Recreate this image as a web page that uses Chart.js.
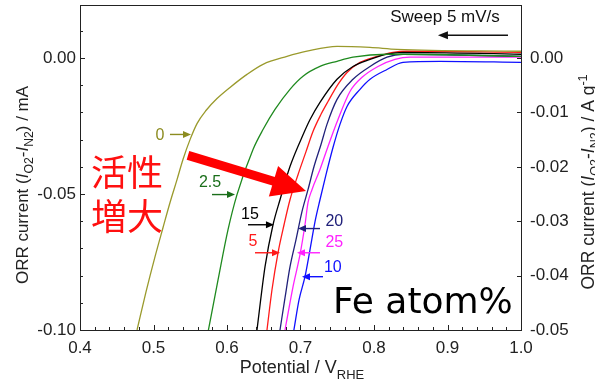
<!DOCTYPE html>
<html><head><meta charset="utf-8">
<script src="https://cdn.jsdelivr.net/npm/chart.js@4/dist/chart.umd.min.js"></script>
<style>html,body{margin:0;padding:0;background:#fff;}#wrap{width:595px;height:385px;}</style>
</head><body><div id="wrap"><canvas id="c" width="595" height="385"></canvas></div>
<script>
// ---- data (potential V vs RHE, ORR current mA) ----
const fe0_V   = [0.4776,0.4898,0.5020,0.5129,0.5224,0.5320,0.5401,0.5497,0.5592,0.5714,0.5864,0.6041,0.6272,0.6490,0.6816,0.7088,0.7497,0.7946,0.8313,1.0];
const fe0_I   = [-0.1000,-0.0860,-0.0731,-0.0624,-0.0532,-0.0447,-0.0373,-0.0300,-0.0241,-0.0193,-0.0149,-0.0108,-0.0060,-0.0023,0.0006,0.0025,0.0043,0.0039,0.0032,0.0025];
const fe2p5_V = [0.5747,0.5878,0.6014,0.6136,0.6354,0.6490,0.6653,0.6857,0.7034,0.7265,0.7497,0.7714,0.8177,0.8395,1.0];
const fe2p5_I = [-0.1000,-0.0816,-0.0631,-0.0502,-0.0336,-0.0263,-0.0189,-0.0115,-0.0067,-0.0031,-0.0012,0.0003,0.0014,0.0014,0.0006];
const fe15_V  = [0.6408,0.6517,0.6626,0.6721,0.6857,0.7048,0.7130,0.7265,0.7497,0.7714,0.7946,0.8177,0.8395,1.0];
const fe15_I  = [-0.1000,-0.0768,-0.0613,-0.0521,-0.0399,-0.0274,-0.0226,-0.0163,-0.0078,-0.0031,-0.0005,0.0014,0.0021,0.0014];
const fe5_V   = [0.6544,0.6612,0.6694,0.6776,0.6857,0.6966,0.7075,0.7170,0.7279,0.7374,0.7510,0.7633,0.7810,0.8041,0.8259,0.8449,1.0];
const fe5_I   = [-0.1000,-0.0852,-0.0716,-0.0613,-0.0521,-0.0429,-0.0344,-0.0270,-0.0207,-0.0160,-0.0097,-0.0053,-0.0016,0.0006,0.0021,0.0025,0.0021];
const fe20_V  = [0.6721,0.6789,0.6857,0.6939,0.7020,0.7102,0.7184,0.7279,0.7360,0.7497,0.7714,0.7946,0.8177,0.8395,1.0];
const fe20_I  = [-0.1000,-0.0882,-0.0768,-0.0668,-0.0565,-0.0484,-0.0399,-0.0318,-0.0244,-0.0152,-0.0078,-0.0031,0.0003,0.0014,0.0006];
const fe25_V  = [0.6789,0.6898,0.6993,0.7061,0.7102,0.7156,0.7265,0.7374,0.7510,0.7673,0.7837,0.8054,0.8286,0.8490,1.0];
const fe25_I  = [-0.1000,-0.0841,-0.0723,-0.0613,-0.0532,-0.0484,-0.0410,-0.0325,-0.0226,-0.0123,-0.0071,-0.0031,-0.0005,0.0003,0.0003];
const fe10_V  = [0.6910,0.6980,0.7061,0.7129,0.7197,0.7265,0.7347,0.7442,0.7537,0.7633,0.7810,0.7946,0.8177,0.8395,0.8898,1.0];
const fe10_I  = [-0.1000,-0.0889,-0.0804,-0.0705,-0.0602,-0.0521,-0.0429,-0.0329,-0.0244,-0.0178,-0.0115,-0.0078,-0.0042,-0.0016,-0.0012,-0.0016];

const xTicks  = [0.4,0.5,0.6,0.7,0.8,0.9,1.0];
const yTicks  = [-0.10,-0.05,0.00];
const y2Ticks = [-0.05,-0.04,-0.03,-0.02,-0.01,0.00];

// ---- styling / annotations ----
const FONT = "'Liberation Sans', Arial, sans-serif";
const C = {olive:'#9a9a2c', green:'#1f8a1f', black:'#000000', red:'#ff1a1a', navy:'#20207a', magenta:'#ff22ff', blue:'#1010ff'};

const labels = [
  {t:'0',   c:'#8c8c20', tx:0.5088, ty:-0.0285, ax1:0.5224, ax2:0.5510, ay:-0.0281},
  {t:'2.5', c:'#1a6e1a', tx:0.5769, ty:-0.0458, ax1:0.5796, ax2:0.6109, ay:-0.0502},
  {t:'15',  c:'#000000', tx:0.6313, ty:-0.0576, ax1:0.6286, ax2:0.6639, ay:-0.0613},
  {t:'5',   c:'#ff1a1a', tx:0.6354, ty:-0.0675, ax1:0.6381, ax2:0.6721, ay:-0.0716},
  {t:'20',  c:'#20207a', tx:0.7460, ty:-0.0602, ax1:0.7265, ax2:0.6966, ay:-0.0627},
  {t:'25',  c:'#ff22ff', tx:0.7460, ty:-0.0679, ax1:0.7265, ax2:0.6952, ay:-0.0716},
  {t:'10',  c:'#1010ff', tx:0.7440, ty:-0.0771, ax1:0.7306, ax2:0.7020, ay:-0.0804}
];

function mk(label, V, I, color){
  return {label, data:V.map((v,i)=>({x:v,y:I[i]})), borderColor:color, borderWidth:1.3,
          pointRadius:0, fill:false, cubicInterpolationMode:'monotone', yAxisID:'y'};
}

function arrow(ctx,x1,y1,x2,y2,color,lw,hl,hw){
  const a=Math.atan2(y2-y1,x2-x1);
  const bx=x2-hl*Math.cos(a), by=y2-hl*Math.sin(a);
  ctx.save();
  ctx.strokeStyle=color; ctx.fillStyle=color; ctx.lineWidth=lw; ctx.lineCap='butt';
  ctx.beginPath(); ctx.moveTo(x1,y1); ctx.lineTo(bx+Math.cos(a)*1,by+Math.sin(a)*1); ctx.stroke();
  ctx.beginPath(); ctx.moveTo(x2,y2);
  ctx.lineTo(bx+hw*Math.sin(a), by-hw*Math.cos(a));
  ctx.lineTo(bx-hw*Math.sin(a), by+hw*Math.cos(a));
  ctx.closePath(); ctx.fill();
  ctx.restore();
}

function rich(ctx, parts, cx, cy, rot, size, color){
  ctx.save(); ctx.translate(cx,cy); ctx.rotate(rot);
  let total=0;
  const m=parts.map(p=>{const fs=(p.sub||p.sup)?size*0.72:size; const f=(p.it?'italic ':'')+fs+'px '+FONT; ctx.font=f; const w=ctx.measureText(p.t).width; total+=w; return {p,f,w};});
  let x=-total/2; ctx.fillStyle=color; ctx.textBaseline='alphabetic'; ctx.textAlign='left';
  const base=size*0.36;
  m.forEach(o=>{ctx.font=o.f; const dy=o.p.sub?size*0.28:(o.p.sup?-size*0.42:0); ctx.fillText(o.p.t,x,base+dy); x+=o.w;});
  ctx.restore();
}

const deco = {
  id:'deco',
  afterDraw(chart){
    const ctx=chart.ctx, xs=chart.scales.x, ys=chart.scales.y, y2=chart.scales.y2, ca=chart.chartArea;
    const X=v=>xs.getPixelForValue(v), Y=v=>ys.getPixelForValue(v);
    ctx.save();
    // frame
    ctx.strokeStyle='#222'; ctx.lineWidth=1;
    ctx.strokeRect(Math.round(ca.left)+0.5, Math.round(ca.top)+0.5, Math.round(ca.right-ca.left), Math.round(ca.bottom-ca.top));
    // inward ticks
    ctx.beginPath();
    for(let i=0;i<=30;i++){const v=0.4+i*0.02; const px=Math.round(X(v))+0.5; const L=(i%5===0)?5:3; ctx.moveTo(px,ca.bottom); ctx.lineTo(px,ca.bottom-L);}
    for(let i=0;i<=11;i++){const v=-0.10+i*0.01; if(v>0.0195) break; const py=Math.round(Y(v))+0.5; const L=(i%5===0)?5:3; ctx.moveTo(ca.left,py); ctx.lineTo(ca.left+L,py);}
    for(let i=0;i<=5;i++){const v=-0.05+i*0.01; const py=Math.round(y2.getPixelForValue(v))+0.5; ctx.moveTo(ca.right,py); ctx.lineTo(ca.right-4,py);}
    ctx.stroke();
    // axis titles
    const yt=[{t:'ORR current ('},{t:'I',it:1},{t:'O2',sub:1},{t:'-'},{t:'I',it:1},{t:'N2',sub:1},{t:') / mA'}];
    rich(ctx, yt, 22, 185, -Math.PI/2, 17, '#222');
    const y2t=[{t:'ORR current ('},{t:'I',it:1},{t:'O2',sub:1},{t:'-'},{t:'I',it:1},{t:'N2',sub:1},{t:') / A g'},{t:'-1',sup:1}];
    rich(ctx, y2t, 588, 182, -Math.PI/2, 17.5, '#222');
    rich(ctx, [{t:'Potential / V'},{t:'RHE',sub:1}], 302, 367, 0, 18, '#222');
    // series labels with arrows
    labels.forEach(l=>{
      ctx.font='16px '+FONT; ctx.fillStyle=l.c; ctx.textAlign='center'; ctx.textBaseline='middle';
      ctx.fillText(l.t, X(l.tx), Y(l.ty));
      arrow(ctx, X(l.ax1), Y(l.ay), X(l.ax2), Y(l.ay), l.c, 1.4, 8, 3.5);
    });
    // sweep note
    ctx.font='17px '+FONT; ctx.fillStyle='#111'; ctx.textAlign='center'; ctx.textBaseline='middle';
    ctx.fillText('Sweep 5 mV/s', X(0.8966), Y(0.0149));
    arrow(ctx, X(0.9823), Y(0.0084), X(0.887), Y(0.0084), '#111', 1.6, 10, 4);
    // Fe atom%
    ctx.font='36px "DejaVu Sans", sans-serif'; ctx.fillStyle='#000'; ctx.textAlign='left'; ctx.textBaseline='alphabetic';
    ctx.fillText('Fe atom%', X(0.7442), Y(-0.0937));
    // Japanese annotation
    ctx.font='36px "Noto Sans CJK JP", sans-serif'; ctx.fillStyle='#ff1010'; ctx.textAlign='center'; ctx.textBaseline='middle';
    ctx.fillText('活性', X(0.4639), Y(-0.0421));
    ctx.fillText('増大', X(0.4639), Y(-0.0583));
    // big red arrow
    arrow(ctx, X(0.5469), Y(-0.0358), X(0.7075), Y(-0.0489), '#ff0000', 9, 34, 16);
    ctx.restore();
  }
};

const noPad = s => { s.paddingTop = 0; s.paddingBottom = 0; s.paddingLeft = 0; s.paddingRight = 0; };

new Chart(document.getElementById('c'), {
  type:'line',
  data:{datasets:[
    mk('0', fe0_V, fe0_I, C.olive),
    mk('2.5', fe2p5_V, fe2p5_I, C.green),
    mk('15', fe15_V, fe15_I, C.black),
    mk('20', fe20_V, fe20_I, C.navy),
    mk('25', fe25_V, fe25_I, C.magenta),
    mk('10', fe10_V, fe10_I, C.blue),
    mk('5', fe5_V, fe5_I, C.red)
  ]},
  options:{
    responsive:false, devicePixelRatio:1, animation:false,
    layout:{padding:{top:5,left:0,right:0,bottom:0}},
    plugins:{legend:{display:false}, tooltip:{enabled:false}},
    scales:{
      x:{type:'linear', min:0.4, max:1.0, grid:{display:false, drawTicks:false}, border:{display:false},
         afterFit:s=>{s.height=55; noPad(s);}, afterBuildTicks:s=>{s.ticks=xTicks.map(v=>({value:v}));},
         ticks:{autoSkip:false, maxRotation:0, padding:8, color:'#222', font:{family:FONT,size:17}, callback:v=>v.toFixed(1)}},
      y:{type:'linear', position:'left', min:-0.10, max:0.0195, grid:{display:false, drawTicks:false}, border:{display:false},
         afterFit:s=>{s.width=80; noPad(s);}, afterBuildTicks:s=>{s.ticks=yTicks.map(v=>({value:v}));},
         ticks:{autoSkip:false, padding:4, color:'#222', font:{family:FONT,size:17}, callback:v=>v.toFixed(2)}},
      y2:{type:'linear', position:'right', min:-0.05, max:0.00975, grid:{display:false, drawTicks:false}, border:{display:false},
         afterFit:s=>{s.width=74; noPad(s);}, afterBuildTicks:s=>{s.ticks=y2Ticks.map(v=>({value:v}));},
         ticks:{autoSkip:false, padding:9, color:'#222', font:{family:FONT,size:17}, callback:v=>v.toFixed(2)}}
    }
  },
  plugins:[deco]
});
</script>
</body></html>
